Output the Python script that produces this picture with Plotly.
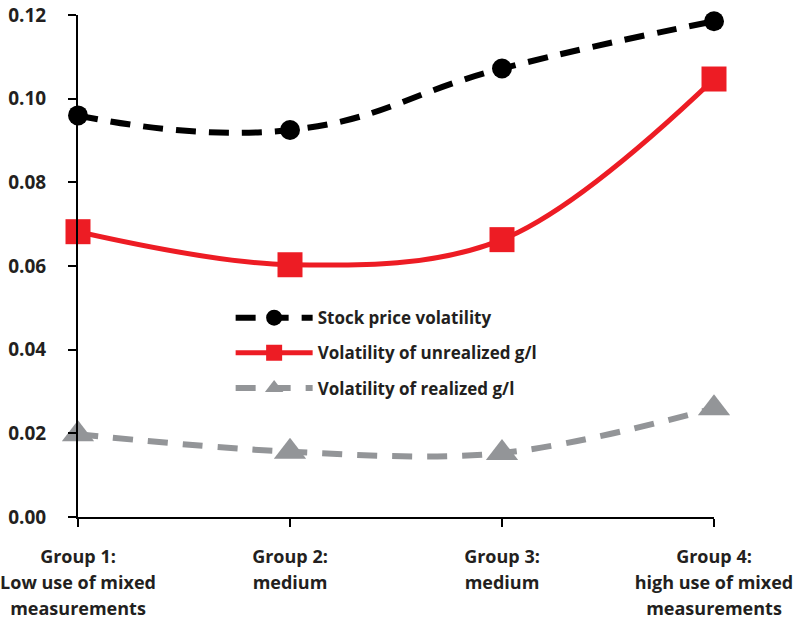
import plotly.graph_objects as go

categories = ["Group 1:<br>Low use of mixed<br>measurements", "Group 2:<br>medium", "Group 3:<br>medium", "Group 4:<br>high use of mixed<br>measurements"]
stock_price = [0.0960, 0.0925, 0.1072, 0.1185]
unrealized = [0.0682, 0.0603, 0.0663, 0.1047]
realized = [0.0198, 0.0156, 0.0153, 0.0260]
y_ticks = [0.00, 0.02, 0.04, 0.06, 0.08, 0.10, 0.12]

xpos = list(range(len(categories)))
FONT = "Open Sans"


def fmt_label(c):
    lines = c.split("<br>")
    return "<br>".join('<span style="font-size:18px"><b>%s</b></span>' % ln for ln in lines)


fig = go.Figure()
fig.add_trace(go.Scatter(x=xpos, y=stock_price, name="Stock price volatility", mode="lines+markers", legendgroup="a",
    line=dict(color="#000000", width=6, dash="20px,13px", shape="spline", smoothing=1.3),
    marker=dict(symbol="circle", size=20, color="#000000"), cliponaxis=False))
fig.add_trace(go.Scatter(x=xpos, y=unrealized, name="Volatility of unrealized g/l", mode="lines+markers", legendgroup="b",
    line=dict(color="#ed1c24", width=5, shape="spline", smoothing=1),
    marker=dict(symbol="square", size=25, color="#ed1c24"), cliponaxis=False))
fig.add_trace(go.Scatter(x=xpos, y=realized, name="Volatility of realized g/l", mode="lines+markers", legendgroup="c",
    line=dict(color="#939598", width=6, dash="20px,15px", shape="spline", smoothing=1),
    marker=dict(symbol="triangle-up", size=28, color="#939598"), cliponaxis=False))

fig.update_layout(
    width=806, height=626, margin=dict(l=78, r=92, t=15, b=109, autoexpand=False),
    plot_bgcolor="white", paper_bgcolor="white",
    font=dict(family=FONT, color="#231f20", size=18),
    showlegend=True,
    legend=dict(x=0.24, y=0.432, xanchor="left", yanchor="top", bgcolor="rgba(0,0,0,0)",
                font=dict(size=17, family=FONT, weight="bold"), itemwidth=77, tracegroupgap=10,
                itemsizing="trace"),
)
fig.update_xaxes(range=[0, 3], tickvals=xpos, ticktext=[fmt_label(c) for c in categories],
                 showgrid=False, zeroline=False, showline=True, linecolor="black", linewidth=2,
                 ticks="outside", ticklen=8, tickwidth=2, tickcolor="black", automargin=False,
                 tickfont=dict(size=20, family=FONT), ticklabelstandoff=12)
fig.update_yaxes(range=[0, 0.12], tickvals=y_ticks, ticktext=["<b>%.2f</b>" % v for v in y_ticks],
                 showgrid=False, zeroline=False, showline=True, linecolor="black", linewidth=2,
                 ticks="outside", ticklen=8, tickwidth=2, tickcolor="black", automargin=False,
                 tickfont=dict(size=19, family=FONT), ticklabelstandoff=18)

fig.write_html("out.html")
